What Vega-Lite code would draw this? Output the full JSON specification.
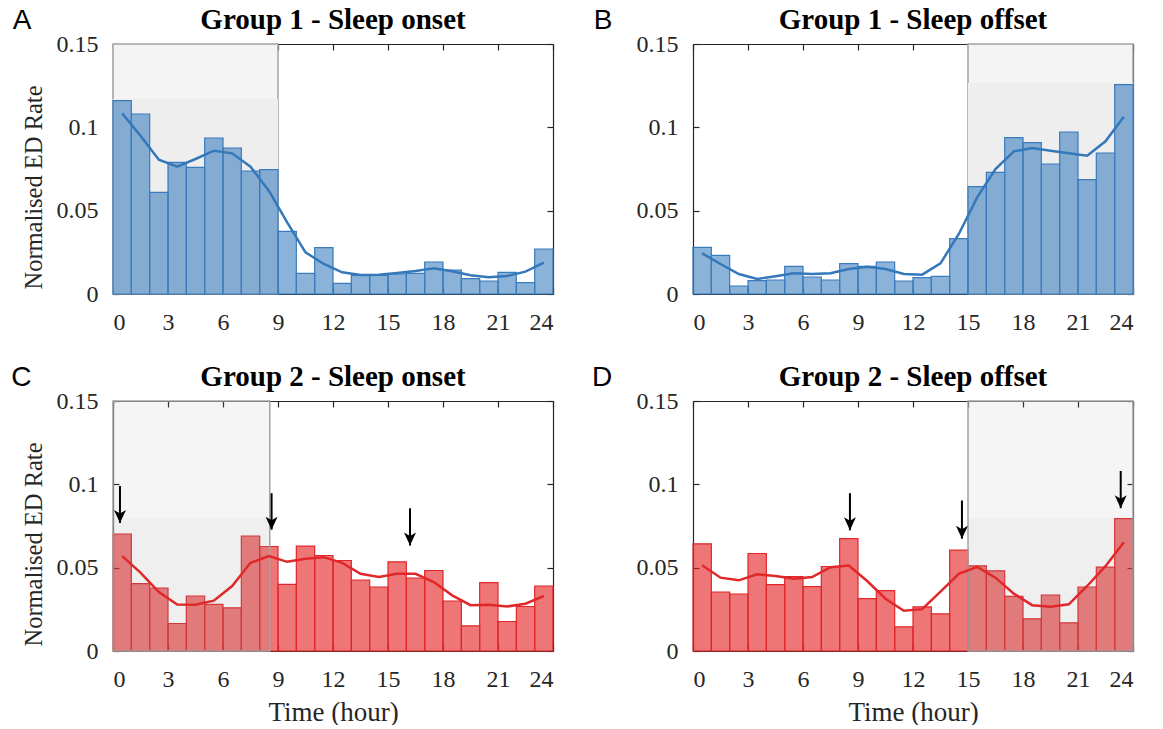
{
  "$schema": "https://vega.github.io/schema/vega-lite/v6.json",
  "background": "white",
  "padding": {"left": 11, "top": 5, "right": 5, "bottom": 0},
  "datasets": {
    "bars": [
      {"p":"A","h0":0,"h1":1,"v":0.116},{"p":"A","h0":1,"h1":2,"v":0.108},{"p":"A","h0":2,"h1":3,"v":0.061},{"p":"A","h0":3,"h1":4,"v":0.079},{"p":"A","h0":4,"h1":5,"v":0.076},{"p":"A","h0":5,"h1":6,"v":0.0936},{"p":"A","h0":6,"h1":7,"v":0.0876},{"p":"A","h0":7,"h1":8,"v":0.0738},{"p":"A","h0":8,"h1":9,"v":0.0746},{"p":"A","h0":9,"h1":10,"v":0.0376},{"p":"A","h0":10,"h1":11,"v":0.0124},{"p":"A","h0":11,"h1":12,"v":0.0278},{"p":"A","h0":12,"h1":13,"v":0.0064},{"p":"A","h0":13,"h1":14,"v":0.0112},{"p":"A","h0":14,"h1":15,"v":0.0112},{"p":"A","h0":15,"h1":16,"v":0.012},{"p":"A","h0":16,"h1":17,"v":0.0124},{"p":"A","h0":17,"h1":18,"v":0.0192},{"p":"A","h0":18,"h1":19,"v":0.0144},{"p":"A","h0":19,"h1":20,"v":0.0092},{"p":"A","h0":20,"h1":21,"v":0.0078},{"p":"A","h0":21,"h1":22,"v":0.013},{"p":"A","h0":22,"h1":23,"v":0.0068},{"p":"A","h0":23,"h1":24,"v":0.027},
      {"p":"B","h0":0,"h1":1,"v":0.028},{"p":"B","h0":1,"h1":2,"v":0.0232},{"p":"B","h0":2,"h1":3,"v":0.0048},{"p":"B","h0":3,"h1":4,"v":0.008},{"p":"B","h0":4,"h1":5,"v":0.0084},{"p":"B","h0":5,"h1":6,"v":0.0166},{"p":"B","h0":6,"h1":7,"v":0.0102},{"p":"B","h0":7,"h1":8,"v":0.0084},{"p":"B","h0":8,"h1":9,"v":0.0182},{"p":"B","h0":9,"h1":10,"v":0.0166},{"p":"B","h0":10,"h1":11,"v":0.0192},{"p":"B","h0":11,"h1":12,"v":0.0078},{"p":"B","h0":12,"h1":13,"v":0.0098},{"p":"B","h0":13,"h1":14,"v":0.0106},{"p":"B","h0":14,"h1":15,"v":0.0332},{"p":"B","h0":15,"h1":16,"v":0.0644},{"p":"B","h0":16,"h1":17,"v":0.073},{"p":"B","h0":17,"h1":18,"v":0.0938},{"p":"B","h0":18,"h1":19,"v":0.0908},{"p":"B","h0":19,"h1":20,"v":0.078},{"p":"B","h0":20,"h1":21,"v":0.0972},{"p":"B","h0":21,"h1":22,"v":0.0686},{"p":"B","h0":22,"h1":23,"v":0.0846},{"p":"B","h0":23,"h1":24,"v":0.1256},
      {"p":"C","h0":0,"h1":1,"v":0.0702},{"p":"C","h0":1,"h1":2,"v":0.0404},{"p":"C","h0":2,"h1":3,"v":0.0378},{"p":"C","h0":3,"h1":4,"v":0.0165},{"p":"C","h0":4,"h1":5,"v":0.033},{"p":"C","h0":5,"h1":6,"v":0.028},{"p":"C","h0":6,"h1":7,"v":0.0259},{"p":"C","h0":7,"h1":8,"v":0.069},{"p":"C","h0":8,"h1":9,"v":0.0627},{"p":"C","h0":9,"h1":10,"v":0.040},{"p":"C","h0":10,"h1":11,"v":0.0629},{"p":"C","h0":11,"h1":12,"v":0.0573},{"p":"C","h0":12,"h1":13,"v":0.0543},{"p":"C","h0":13,"h1":14,"v":0.0426},{"p":"C","h0":14,"h1":15,"v":0.0384},{"p":"C","h0":15,"h1":16,"v":0.0535},{"p":"C","h0":16,"h1":17,"v":0.0438},{"p":"C","h0":17,"h1":18,"v":0.0483},{"p":"C","h0":18,"h1":19,"v":0.030},{"p":"C","h0":19,"h1":20,"v":0.0151},{"p":"C","h0":20,"h1":21,"v":0.041},{"p":"C","h0":21,"h1":22,"v":0.0177},{"p":"C","h0":22,"h1":23,"v":0.0267},{"p":"C","h0":23,"h1":24,"v":0.039},
      {"p":"D","h0":0,"h1":1,"v":0.0643},{"p":"D","h0":1,"h1":2,"v":0.0354},{"p":"D","h0":2,"h1":3,"v":0.0342},{"p":"D","h0":3,"h1":4,"v":0.0585},{"p":"D","h0":4,"h1":5,"v":0.0398},{"p":"D","h0":5,"h1":6,"v":0.0446},{"p":"D","h0":6,"h1":7,"v":0.0386},{"p":"D","h0":7,"h1":8,"v":0.0507},{"p":"D","h0":8,"h1":9,"v":0.0674},{"p":"D","h0":9,"h1":10,"v":0.0314},{"p":"D","h0":10,"h1":11,"v":0.0362},{"p":"D","h0":11,"h1":12,"v":0.0145},{"p":"D","h0":12,"h1":13,"v":0.0265},{"p":"D","h0":13,"h1":14,"v":0.0223},{"p":"D","h0":14,"h1":15,"v":0.0605},{"p":"D","h0":15,"h1":16,"v":0.0511},{"p":"D","h0":16,"h1":17,"v":0.0481},{"p":"D","h0":17,"h1":18,"v":0.0328},{"p":"D","h0":18,"h1":19,"v":0.0193},{"p":"D","h0":19,"h1":20,"v":0.0336},{"p":"D","h0":20,"h1":21,"v":0.0169},{"p":"D","h0":21,"h1":22,"v":0.0384},{"p":"D","h0":22,"h1":23,"v":0.0503},{"p":"D","h0":23,"h1":24,"v":0.0794}
    ],
    "lines": [
      {"p":"A","h":0.5,"v":0.1084},{"p":"A","h":1.5,"v":0.095},{"p":"A","h":2.5,"v":0.0806},{"p":"A","h":3.5,"v":0.0764},{"p":"A","h":4.5,"v":0.081},{"p":"A","h":5.5,"v":0.086},{"p":"A","h":6.5,"v":0.0844},{"p":"A","h":7.5,"v":0.0764},{"p":"A","h":8.5,"v":0.062},{"p":"A","h":9.5,"v":0.043},{"p":"A","h":10.5,"v":0.025},{"p":"A","h":11.5,"v":0.018},{"p":"A","h":12.5,"v":0.013},{"p":"A","h":13.5,"v":0.0114},{"p":"A","h":14.5,"v":0.0116},{"p":"A","h":15.5,"v":0.0126},{"p":"A","h":16.5,"v":0.0138},{"p":"A","h":17.5,"v":0.0154},{"p":"A","h":18.5,"v":0.0136},{"p":"A","h":19.5,"v":0.0112},{"p":"A","h":20.5,"v":0.010},{"p":"A","h":21.5,"v":0.0108},{"p":"A","h":22.5,"v":0.0134},{"p":"A","h":23.5,"v":0.0188},
      {"p":"B","h":0.5,"v":0.0244},{"p":"B","h":1.5,"v":0.018},{"p":"B","h":2.5,"v":0.012},{"p":"B","h":3.5,"v":0.009},{"p":"B","h":4.5,"v":0.0106},{"p":"B","h":5.5,"v":0.0124},{"p":"B","h":6.5,"v":0.012},{"p":"B","h":7.5,"v":0.0124},{"p":"B","h":8.5,"v":0.015},{"p":"B","h":9.5,"v":0.0164},{"p":"B","h":10.5,"v":0.015},{"p":"B","h":11.5,"v":0.012},{"p":"B","h":12.5,"v":0.0116},{"p":"B","h":13.5,"v":0.0184},{"p":"B","h":14.5,"v":0.036},{"p":"B","h":15.5,"v":0.058},{"p":"B","h":16.5,"v":0.075},{"p":"B","h":17.5,"v":0.0856},{"p":"B","h":18.5,"v":0.0876},{"p":"B","h":19.5,"v":0.086},{"p":"B","h":20.5,"v":0.0844},{"p":"B","h":21.5,"v":0.083},{"p":"B","h":22.5,"v":0.0916},{"p":"B","h":23.5,"v":0.1064},
      {"p":"C","h":0.5,"v":0.0569},{"p":"C","h":1.5,"v":0.047},{"p":"C","h":2.5,"v":0.0354},{"p":"C","h":3.5,"v":0.0279},{"p":"C","h":4.5,"v":0.0277},{"p":"C","h":5.5,"v":0.0302},{"p":"C","h":6.5,"v":0.039},{"p":"C","h":7.5,"v":0.0529},{"p":"C","h":8.5,"v":0.0569},{"p":"C","h":9.5,"v":0.0535},{"p":"C","h":10.5,"v":0.0553},{"p":"C","h":11.5,"v":0.0563},{"p":"C","h":12.5,"v":0.0529},{"p":"C","h":13.5,"v":0.0463},{"p":"C","h":14.5,"v":0.0444},{"p":"C","h":15.5,"v":0.0463},{"p":"C","h":16.5,"v":0.0463},{"p":"C","h":17.5,"v":0.0414},{"p":"C","h":18.5,"v":0.0334},{"p":"C","h":19.5,"v":0.0275},{"p":"C","h":20.5,"v":0.0277},{"p":"C","h":21.5,"v":0.0267},{"p":"C","h":22.5,"v":0.0284},{"p":"C","h":23.5,"v":0.033},
      {"p":"D","h":0.5,"v":0.0515},{"p":"D","h":1.5,"v":0.044},{"p":"D","h":2.5,"v":0.0424},{"p":"D","h":3.5,"v":0.046},{"p":"D","h":4.5,"v":0.045},{"p":"D","h":5.5,"v":0.0434},{"p":"D","h":6.5,"v":0.0444},{"p":"D","h":7.5,"v":0.0503},{"p":"D","h":8.5,"v":0.0513},{"p":"D","h":9.5,"v":0.042},{"p":"D","h":10.5,"v":0.0314},{"p":"D","h":11.5,"v":0.0241},{"p":"D","h":12.5,"v":0.0251},{"p":"D","h":13.5,"v":0.0356},{"p":"D","h":14.5,"v":0.0463},{"p":"D","h":15.5,"v":0.0505},{"p":"D","h":16.5,"v":0.044},{"p":"D","h":17.5,"v":0.0344},{"p":"D","h":18.5,"v":0.0275},{"p":"D","h":19.5,"v":0.0265},{"p":"D","h":20.5,"v":0.028},{"p":"D","h":21.5,"v":0.039},{"p":"D","h":22.5,"v":0.0509},{"p":"D","h":23.5,"v":0.0652}
    ],
    "shade": [
      {"p":"A","s":0,"e":9,"top":0.15,"split":0.117},
      {"p":"B","s":15,"e":24,"top":0.15,"split":0.1266},
      {"p":"C","s":0,"e":8.55,"top":0.15,"split":0.080},
      {"p":"D","s":15,"e":24,"top":0.15,"split":0.080}
    ],
    "arrows": [
      {"p":"C","h":0.38,"top":0.099,"tip":0.0768},
      {"p":"C","h":8.65,"top":0.0947,"tip":0.0728},
      {"p":"C","h":16.2,"top":0.0857,"tip":0.0633},
      {"p":"D","h":8.56,"top":0.0947,"tip":0.0724},
      {"p":"D","h":14.67,"top":0.0903,"tip":0.0674},
      {"p":"D","h":23.33,"top":0.108,"tip":0.0857}
    ],
    "letters": [
      {"p":"A","t":"A","h":-4.96,"v":0.159},
      {"p":"B","t":"B","h":-4.9,"v":0.159},
      {"p":"C","t":"C","h":-5.0,"v":0.159},
      {"p":"D","t":"D","h":-4.96,"v":0.159}
    ]
  },
  "columns": 2,
  "spacing": {"column": 140, "row": 107},
  "bounds": "flush",
  "concat": [
    {
      "width": 440, "height": 250,
      "title": "Group 1 - Sleep onset",
      "resolve": {"axis": {"x": "independent", "y": "independent"}},
      "layer": [
        {"data": {"name": "shade"}, "transform": [{"filter": "datum.p === 'A'"}],
         "mark": {"type": "rect", "fill": "#f4f4f4", "stroke": "#a3a3a3", "strokeWidth": 1.5},
         "encoding": {
           "x": {"field": "s", "type": "quantitative", "scale": {"domain": [0, 24], "nice": false},
                 "axis": {"orient": "bottom", "values": [0,3,6,9,12,15,18,21,24], "title": null}},
           "x2": {"field": "e"},
           "y": {"field": "top", "type": "quantitative", "scale": {"domain": [0, 0.15], "nice": false},
                 "axis": {"orient": "left", "values": [0,0.05,0.1,0.15], "labelExpr": "datum.value === 0 ? '0' : format(datum.value, '.2~f')", "title": "Normalised ED Rate"}},
           "y2": {"datum": 0}}},
        {"data": {"name": "shade"}, "transform": [{"filter": "datum.p === 'A'"}],
         "mark": {"type": "rect", "fill": "#eeeeee"},
         "encoding": {"x": {"field": "s", "type": "quantitative", "axis": null}, "x2": {"field": "e"},
           "y": {"field": "split", "type": "quantitative", "axis": null}, "y2": {"datum": 0}}},
        {"data": {"name": "bars"}, "transform": [{"filter": "datum.p === 'A'"}],
         "mark": {"type": "rect", "fill": "#3d7fbf", "fillOpacity": 0.6, "stroke": "#3a7bbd", "strokeWidth": 1.2},
         "encoding": {"x": {"field": "h0", "type": "quantitative", "axis": null}, "x2": {"field": "h1"},
           "y": {"field": "v", "type": "quantitative", "axis": null}, "y2": {"datum": 0}}},
        {"data": {"name": "lines"}, "transform": [{"filter": "datum.p === 'A'"}],
         "mark": {"type": "line", "color": "#3478ba", "strokeWidth": 2.5},
         "encoding": {
           "x": {"field": "h", "type": "quantitative", "axis": {"orient": "top", "values": [0,3,6,9,12,15,18,21,24], "labels": false, "title": null}},
           "y": {"field": "v", "type": "quantitative", "axis": {"orient": "right", "values": [0,0.05,0.1,0.15], "labels": false, "title": null}}}},
        {"data": {"name": "letters"}, "transform": [{"filter": "datum.p === 'A'"}],
         "mark": {"type": "text", "font": "Liberation Sans", "fontSize": 28, "align": "center", "baseline": "alphabetic", "color": "#000"},
         "encoding": {"x": {"field": "h", "type": "quantitative", "axis": null}, "y": {"field": "v", "type": "quantitative", "axis": null}, "text": {"field": "t"}}}
      ]
    },
    {
      "width": 440, "height": 250,
      "title": "Group 1 - Sleep offset",
      "resolve": {"axis": {"x": "independent", "y": "independent"}},
      "layer": [
        {"data": {"name": "shade"}, "transform": [{"filter": "datum.p === 'B'"}],
         "mark": {"type": "rect", "fill": "#f4f4f4", "stroke": "#a3a3a3", "strokeWidth": 1.5},
         "encoding": {
           "x": {"field": "s", "type": "quantitative", "scale": {"domain": [0, 24], "nice": false},
                 "axis": {"orient": "bottom", "values": [0,3,6,9,12,15,18,21,24], "title": null}},
           "x2": {"field": "e"},
           "y": {"field": "top", "type": "quantitative", "scale": {"domain": [0, 0.15], "nice": false},
                 "axis": {"orient": "left", "values": [0,0.05,0.1,0.15], "labelExpr": "datum.value === 0 ? '0' : format(datum.value, '.2~f')", "title": null}},
           "y2": {"datum": 0}}},
        {"data": {"name": "shade"}, "transform": [{"filter": "datum.p === 'B'"}],
         "mark": {"type": "rect", "fill": "#eeeeee"},
         "encoding": {"x": {"field": "s", "type": "quantitative", "axis": null}, "x2": {"field": "e"},
           "y": {"field": "split", "type": "quantitative", "axis": null}, "y2": {"datum": 0}}},
        {"data": {"name": "bars"}, "transform": [{"filter": "datum.p === 'B'"}],
         "mark": {"type": "rect", "fill": "#3d7fbf", "fillOpacity": 0.6, "stroke": "#3a7bbd", "strokeWidth": 1.2},
         "encoding": {"x": {"field": "h0", "type": "quantitative", "axis": null}, "x2": {"field": "h1"},
           "y": {"field": "v", "type": "quantitative", "axis": null}, "y2": {"datum": 0}}},
        {"data": {"name": "lines"}, "transform": [{"filter": "datum.p === 'B'"}],
         "mark": {"type": "line", "color": "#3478ba", "strokeWidth": 2.5},
         "encoding": {
           "x": {"field": "h", "type": "quantitative", "axis": {"orient": "top", "values": [0,3,6,9,12,15,18,21,24], "labels": false, "title": null}},
           "y": {"field": "v", "type": "quantitative", "axis": {"orient": "right", "values": [0,0.05,0.1,0.15], "labels": false, "title": null}}}},
        {"data": {"name": "letters"}, "transform": [{"filter": "datum.p === 'B'"}],
         "mark": {"type": "text", "font": "Liberation Sans", "fontSize": 28, "align": "center", "baseline": "alphabetic", "color": "#000"},
         "encoding": {"x": {"field": "h", "type": "quantitative", "axis": null}, "y": {"field": "v", "type": "quantitative", "axis": null}, "text": {"field": "t"}}}
      ]
    },
    {
      "width": 440, "height": 250,
      "title": "Group 2 - Sleep onset",
      "resolve": {"axis": {"x": "independent", "y": "independent"}},
      "layer": [
        {"data": {"name": "bars"}, "transform": [{"filter": "datum.p === 'C'"}],
         "mark": {"type": "rect", "fill": "#e41a1c", "fillOpacity": 0.6, "stroke": "#e0262a", "strokeWidth": 1.2},
         "encoding": {
           "x": {"field": "h0", "type": "quantitative", "scale": {"domain": [0, 24], "nice": false},
                 "axis": {"orient": "bottom", "values": [0,3,6,9,12,15,18,21,24], "title": "Time (hour)"}},
           "x2": {"field": "h1"},
           "y": {"field": "v", "type": "quantitative", "scale": {"domain": [0, 0.15], "nice": false},
                 "axis": {"orient": "left", "values": [0,0.05,0.1,0.15], "labelExpr": "datum.value === 0 ? '0' : format(datum.value, '.2~f')", "title": "Normalised ED Rate"}},
           "y2": {"datum": 0}}},
        {"data": {"name": "shade"}, "transform": [{"filter": "datum.p === 'C'"}],
         "mark": {"type": "rect", "fill": "#a0a0a0", "fillOpacity": 0.1, "stroke": "#a3a3a3", "strokeWidth": 1.5},
         "encoding": {"x": {"field": "s", "type": "quantitative", "axis": null}, "x2": {"field": "e"},
           "y": {"field": "top", "type": "quantitative", "axis": null}, "y2": {"datum": 0}}},
        {"data": {"name": "shade"}, "transform": [{"filter": "datum.p === 'C'"}],
         "mark": {"type": "rect", "fill": "#a0a0a0", "fillOpacity": 0.06},
         "encoding": {"x": {"field": "s", "type": "quantitative", "axis": null}, "x2": {"field": "e"},
           "y": {"field": "split", "type": "quantitative", "axis": null}, "y2": {"datum": 0}}},
        {"data": {"name": "lines"}, "transform": [{"filter": "datum.p === 'C'"}],
         "mark": {"type": "line", "color": "#e0282a", "strokeWidth": 2.5},
         "encoding": {
           "x": {"field": "h", "type": "quantitative", "axis": {"orient": "top", "values": [0,3,6,9,12,15,18,21,24], "labels": false, "title": null}},
           "y": {"field": "v", "type": "quantitative", "axis": {"orient": "right", "values": [0,0.05,0.1,0.15], "labels": false, "title": null}}}},
        {"data": {"name": "arrows"}, "transform": [{"filter": "datum.p === 'C'"}],
         "mark": {"type": "rule", "color": "#000", "strokeWidth": 2},
         "encoding": {"x": {"field": "h", "type": "quantitative", "axis": null},
           "y": {"field": "top", "type": "quantitative", "axis": null}, "y2": {"field": "tip"}}},
        {"data": {"name": "arrows"}, "transform": [{"filter": "datum.p === 'C'"}],
         "mark": {"type": "point", "shape": "M0,0 L-1.2,-2.6 L0,-1.9 L1.2,-2.6 Z", "size": 100, "filled": true, "color": "#000", "opacity": 1},
         "encoding": {"x": {"field": "h", "type": "quantitative", "axis": null},
           "y": {"field": "tip", "type": "quantitative", "axis": null}}},
        {"data": {"name": "letters"}, "transform": [{"filter": "datum.p === 'C'"}],
         "mark": {"type": "text", "font": "Liberation Sans", "fontSize": 28, "align": "center", "baseline": "alphabetic", "color": "#000"},
         "encoding": {"x": {"field": "h", "type": "quantitative", "axis": null}, "y": {"field": "v", "type": "quantitative", "axis": null}, "text": {"field": "t"}}}
      ]
    },
    {
      "width": 440, "height": 250,
      "title": "Group 2 - Sleep offset",
      "resolve": {"axis": {"x": "independent", "y": "independent"}},
      "layer": [
        {"data": {"name": "bars"}, "transform": [{"filter": "datum.p === 'D'"}],
         "mark": {"type": "rect", "fill": "#e41a1c", "fillOpacity": 0.6, "stroke": "#e0262a", "strokeWidth": 1.2},
         "encoding": {
           "x": {"field": "h0", "type": "quantitative", "scale": {"domain": [0, 24], "nice": false},
                 "axis": {"orient": "bottom", "values": [0,3,6,9,12,15,18,21,24], "title": "Time (hour)"}},
           "x2": {"field": "h1"},
           "y": {"field": "v", "type": "quantitative", "scale": {"domain": [0, 0.15], "nice": false},
                 "axis": {"orient": "left", "values": [0,0.05,0.1,0.15], "labelExpr": "datum.value === 0 ? '0' : format(datum.value, '.2~f')", "title": null}},
           "y2": {"datum": 0}}},
        {"data": {"name": "shade"}, "transform": [{"filter": "datum.p === 'D'"}],
         "mark": {"type": "rect", "fill": "#a0a0a0", "fillOpacity": 0.1, "stroke": "#a3a3a3", "strokeWidth": 1.5},
         "encoding": {"x": {"field": "s", "type": "quantitative", "axis": null}, "x2": {"field": "e"},
           "y": {"field": "top", "type": "quantitative", "axis": null}, "y2": {"datum": 0}}},
        {"data": {"name": "shade"}, "transform": [{"filter": "datum.p === 'D'"}],
         "mark": {"type": "rect", "fill": "#a0a0a0", "fillOpacity": 0.06},
         "encoding": {"x": {"field": "s", "type": "quantitative", "axis": null}, "x2": {"field": "e"},
           "y": {"field": "split", "type": "quantitative", "axis": null}, "y2": {"datum": 0}}},
        {"data": {"name": "lines"}, "transform": [{"filter": "datum.p === 'D'"}],
         "mark": {"type": "line", "color": "#e0282a", "strokeWidth": 2.5},
         "encoding": {
           "x": {"field": "h", "type": "quantitative", "axis": {"orient": "top", "values": [0,3,6,9,12,15,18,21,24], "labels": false, "title": null}},
           "y": {"field": "v", "type": "quantitative", "axis": {"orient": "right", "values": [0,0.05,0.1,0.15], "labels": false, "title": null}}}},
        {"data": {"name": "arrows"}, "transform": [{"filter": "datum.p === 'D'"}],
         "mark": {"type": "rule", "color": "#000", "strokeWidth": 2},
         "encoding": {"x": {"field": "h", "type": "quantitative", "axis": null},
           "y": {"field": "top", "type": "quantitative", "axis": null}, "y2": {"field": "tip"}}},
        {"data": {"name": "arrows"}, "transform": [{"filter": "datum.p === 'D'"}],
         "mark": {"type": "point", "shape": "M0,0 L-1.2,-2.6 L0,-1.9 L1.2,-2.6 Z", "size": 100, "filled": true, "color": "#000", "opacity": 1},
         "encoding": {"x": {"field": "h", "type": "quantitative", "axis": null},
           "y": {"field": "tip", "type": "quantitative", "axis": null}}},
        {"data": {"name": "letters"}, "transform": [{"filter": "datum.p === 'D'"}],
         "mark": {"type": "text", "font": "Liberation Sans", "fontSize": 28, "align": "center", "baseline": "alphabetic", "color": "#000"},
         "encoding": {"x": {"field": "h", "type": "quantitative", "axis": null}, "y": {"field": "v", "type": "quantitative", "axis": null}, "text": {"field": "t"}}}
      ]
    }
  ],
  "config": {
    "view": {"stroke": null},
    "axis": {
      "labelFont": "Liberation Serif", "labelFontSize": 24, "labelColor": "#262626",
      "domainColor": "#262626", "domainWidth": 1.2, "tickColor": "#262626", "tickWidth": 1.2,
      "tickSize": -6, "grid": false, "zindex": 1,
      "titleFont": "Liberation Serif", "titleFontSize": 24.5, "titleFontWeight": "normal", "titleColor": "#262626"
    },
    "axisBottom": {"labelPadding": 22, "titlePadding": 8, "titleFontSize": 27},
    "axisLeft": {"labelPadding": 21, "titlePadding": 10, "titleY": 143},
    "title": {"font": "Liberation Serif", "fontSize": 29, "fontWeight": "bold", "color": "#000", "offset": -28}
  }
}
